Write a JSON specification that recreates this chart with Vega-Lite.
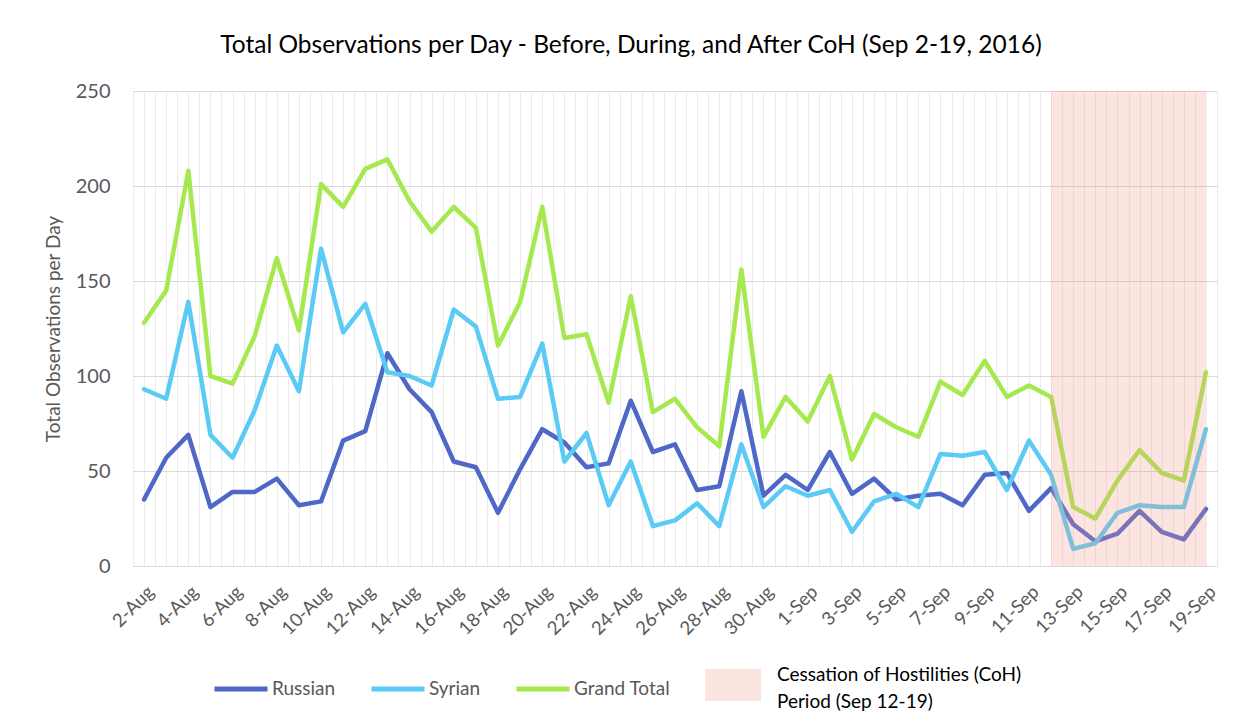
{
  "$schema": "https://vega.github.io/schema/vega-lite/v6.json",
  "width": 1084,
  "height": 475,
  "autosize": {"type": "none"},
  "padding": {"left": 133, "top": 91, "right": 35, "bottom": 155},
  "background": "white",
  "config": {
    "font": "Lato",
    "view": {"stroke": null},
    "style": {"guide-label": {"lineHeight": 27}}
  },
  "title": {
    "text": "Total Observations per Day - Before, During, and After CoH (Sep 2-19, 2016)",
    "font": "Lato",
    "fontSize": 24.5,
    "fontWeight": "normal",
    "color": "#000000",
    "anchor": "middle",
    "offset": 23,
    "dx": -44
  },
  "layer": [
    {
      "data": {
        "values": [
          {"date": "2016-08-02", "series": "Russian", "value": 35},
          {"date": "2016-08-03", "series": "Russian", "value": 57},
          {"date": "2016-08-04", "series": "Russian", "value": 69},
          {"date": "2016-08-05", "series": "Russian", "value": 31},
          {"date": "2016-08-06", "series": "Russian", "value": 39},
          {"date": "2016-08-07", "series": "Russian", "value": 39},
          {"date": "2016-08-08", "series": "Russian", "value": 46},
          {"date": "2016-08-09", "series": "Russian", "value": 32},
          {"date": "2016-08-10", "series": "Russian", "value": 34},
          {"date": "2016-08-11", "series": "Russian", "value": 66},
          {"date": "2016-08-12", "series": "Russian", "value": 71},
          {"date": "2016-08-13", "series": "Russian", "value": 112},
          {"date": "2016-08-14", "series": "Russian", "value": 93},
          {"date": "2016-08-15", "series": "Russian", "value": 81},
          {"date": "2016-08-16", "series": "Russian", "value": 55},
          {"date": "2016-08-17", "series": "Russian", "value": 52},
          {"date": "2016-08-18", "series": "Russian", "value": 28},
          {"date": "2016-08-19", "series": "Russian", "value": 51},
          {"date": "2016-08-20", "series": "Russian", "value": 72},
          {"date": "2016-08-21", "series": "Russian", "value": 65},
          {"date": "2016-08-22", "series": "Russian", "value": 52},
          {"date": "2016-08-23", "series": "Russian", "value": 54},
          {"date": "2016-08-24", "series": "Russian", "value": 87},
          {"date": "2016-08-25", "series": "Russian", "value": 60},
          {"date": "2016-08-26", "series": "Russian", "value": 64},
          {"date": "2016-08-27", "series": "Russian", "value": 40},
          {"date": "2016-08-28", "series": "Russian", "value": 42},
          {"date": "2016-08-29", "series": "Russian", "value": 92},
          {"date": "2016-08-30", "series": "Russian", "value": 37},
          {"date": "2016-08-31", "series": "Russian", "value": 48},
          {"date": "2016-09-01", "series": "Russian", "value": 40},
          {"date": "2016-09-02", "series": "Russian", "value": 60},
          {"date": "2016-09-03", "series": "Russian", "value": 38},
          {"date": "2016-09-04", "series": "Russian", "value": 46},
          {"date": "2016-09-05", "series": "Russian", "value": 35},
          {"date": "2016-09-06", "series": "Russian", "value": 37},
          {"date": "2016-09-07", "series": "Russian", "value": 38},
          {"date": "2016-09-08", "series": "Russian", "value": 32},
          {"date": "2016-09-09", "series": "Russian", "value": 48},
          {"date": "2016-09-10", "series": "Russian", "value": 49},
          {"date": "2016-09-11", "series": "Russian", "value": 29},
          {"date": "2016-09-12", "series": "Russian", "value": 41},
          {"date": "2016-09-13", "series": "Russian", "value": 22},
          {"date": "2016-09-14", "series": "Russian", "value": 13},
          {"date": "2016-09-15", "series": "Russian", "value": 17},
          {"date": "2016-09-16", "series": "Russian", "value": 29},
          {"date": "2016-09-17", "series": "Russian", "value": 18},
          {"date": "2016-09-18", "series": "Russian", "value": 14},
          {"date": "2016-09-19", "series": "Russian", "value": 30},
          {"date": "2016-08-02", "series": "Syrian", "value": 93},
          {"date": "2016-08-03", "series": "Syrian", "value": 88},
          {"date": "2016-08-04", "series": "Syrian", "value": 139},
          {"date": "2016-08-05", "series": "Syrian", "value": 69},
          {"date": "2016-08-06", "series": "Syrian", "value": 57},
          {"date": "2016-08-07", "series": "Syrian", "value": 82},
          {"date": "2016-08-08", "series": "Syrian", "value": 116},
          {"date": "2016-08-09", "series": "Syrian", "value": 92},
          {"date": "2016-08-10", "series": "Syrian", "value": 167},
          {"date": "2016-08-11", "series": "Syrian", "value": 123},
          {"date": "2016-08-12", "series": "Syrian", "value": 138},
          {"date": "2016-08-13", "series": "Syrian", "value": 102},
          {"date": "2016-08-14", "series": "Syrian", "value": 100},
          {"date": "2016-08-15", "series": "Syrian", "value": 95},
          {"date": "2016-08-16", "series": "Syrian", "value": 135},
          {"date": "2016-08-17", "series": "Syrian", "value": 126},
          {"date": "2016-08-18", "series": "Syrian", "value": 88},
          {"date": "2016-08-19", "series": "Syrian", "value": 89},
          {"date": "2016-08-20", "series": "Syrian", "value": 117},
          {"date": "2016-08-21", "series": "Syrian", "value": 55},
          {"date": "2016-08-22", "series": "Syrian", "value": 70},
          {"date": "2016-08-23", "series": "Syrian", "value": 32},
          {"date": "2016-08-24", "series": "Syrian", "value": 55},
          {"date": "2016-08-25", "series": "Syrian", "value": 21},
          {"date": "2016-08-26", "series": "Syrian", "value": 24},
          {"date": "2016-08-27", "series": "Syrian", "value": 33},
          {"date": "2016-08-28", "series": "Syrian", "value": 21},
          {"date": "2016-08-29", "series": "Syrian", "value": 64},
          {"date": "2016-08-30", "series": "Syrian", "value": 31},
          {"date": "2016-08-31", "series": "Syrian", "value": 42},
          {"date": "2016-09-01", "series": "Syrian", "value": 37},
          {"date": "2016-09-02", "series": "Syrian", "value": 40},
          {"date": "2016-09-03", "series": "Syrian", "value": 18},
          {"date": "2016-09-04", "series": "Syrian", "value": 34},
          {"date": "2016-09-05", "series": "Syrian", "value": 38},
          {"date": "2016-09-06", "series": "Syrian", "value": 31},
          {"date": "2016-09-07", "series": "Syrian", "value": 59},
          {"date": "2016-09-08", "series": "Syrian", "value": 58},
          {"date": "2016-09-09", "series": "Syrian", "value": 60},
          {"date": "2016-09-10", "series": "Syrian", "value": 40},
          {"date": "2016-09-11", "series": "Syrian", "value": 66},
          {"date": "2016-09-12", "series": "Syrian", "value": 48},
          {"date": "2016-09-13", "series": "Syrian", "value": 9},
          {"date": "2016-09-14", "series": "Syrian", "value": 12},
          {"date": "2016-09-15", "series": "Syrian", "value": 28},
          {"date": "2016-09-16", "series": "Syrian", "value": 32},
          {"date": "2016-09-17", "series": "Syrian", "value": 31},
          {"date": "2016-09-18", "series": "Syrian", "value": 31},
          {"date": "2016-09-19", "series": "Syrian", "value": 72},
          {"date": "2016-08-02", "series": "Grand Total", "value": 128},
          {"date": "2016-08-03", "series": "Grand Total", "value": 145},
          {"date": "2016-08-04", "series": "Grand Total", "value": 208},
          {"date": "2016-08-05", "series": "Grand Total", "value": 100},
          {"date": "2016-08-06", "series": "Grand Total", "value": 96},
          {"date": "2016-08-07", "series": "Grand Total", "value": 121},
          {"date": "2016-08-08", "series": "Grand Total", "value": 162},
          {"date": "2016-08-09", "series": "Grand Total", "value": 124},
          {"date": "2016-08-10", "series": "Grand Total", "value": 201},
          {"date": "2016-08-11", "series": "Grand Total", "value": 189},
          {"date": "2016-08-12", "series": "Grand Total", "value": 209},
          {"date": "2016-08-13", "series": "Grand Total", "value": 214},
          {"date": "2016-08-14", "series": "Grand Total", "value": 192},
          {"date": "2016-08-15", "series": "Grand Total", "value": 176},
          {"date": "2016-08-16", "series": "Grand Total", "value": 189},
          {"date": "2016-08-17", "series": "Grand Total", "value": 178},
          {"date": "2016-08-18", "series": "Grand Total", "value": 116},
          {"date": "2016-08-19", "series": "Grand Total", "value": 139},
          {"date": "2016-08-20", "series": "Grand Total", "value": 189},
          {"date": "2016-08-21", "series": "Grand Total", "value": 120},
          {"date": "2016-08-22", "series": "Grand Total", "value": 122},
          {"date": "2016-08-23", "series": "Grand Total", "value": 86},
          {"date": "2016-08-24", "series": "Grand Total", "value": 142},
          {"date": "2016-08-25", "series": "Grand Total", "value": 81},
          {"date": "2016-08-26", "series": "Grand Total", "value": 88},
          {"date": "2016-08-27", "series": "Grand Total", "value": 73},
          {"date": "2016-08-28", "series": "Grand Total", "value": 63},
          {"date": "2016-08-29", "series": "Grand Total", "value": 156},
          {"date": "2016-08-30", "series": "Grand Total", "value": 68},
          {"date": "2016-08-31", "series": "Grand Total", "value": 89},
          {"date": "2016-09-01", "series": "Grand Total", "value": 76},
          {"date": "2016-09-02", "series": "Grand Total", "value": 100},
          {"date": "2016-09-03", "series": "Grand Total", "value": 56},
          {"date": "2016-09-04", "series": "Grand Total", "value": 80},
          {"date": "2016-09-05", "series": "Grand Total", "value": 73},
          {"date": "2016-09-06", "series": "Grand Total", "value": 68},
          {"date": "2016-09-07", "series": "Grand Total", "value": 97},
          {"date": "2016-09-08", "series": "Grand Total", "value": 90},
          {"date": "2016-09-09", "series": "Grand Total", "value": 108},
          {"date": "2016-09-10", "series": "Grand Total", "value": 89},
          {"date": "2016-09-11", "series": "Grand Total", "value": 95},
          {"date": "2016-09-12", "series": "Grand Total", "value": 89},
          {"date": "2016-09-13", "series": "Grand Total", "value": 31},
          {"date": "2016-09-14", "series": "Grand Total", "value": 25},
          {"date": "2016-09-15", "series": "Grand Total", "value": 45},
          {"date": "2016-09-16", "series": "Grand Total", "value": 61},
          {"date": "2016-09-17", "series": "Grand Total", "value": 49},
          {"date": "2016-09-18", "series": "Grand Total", "value": 45},
          {"date": "2016-09-19", "series": "Grand Total", "value": 102}
        ]
      },
      "mark": {"type": "line", "strokeWidth": 4.5, "strokeJoin": "round", "strokeCap": "round"},
      "encoding": {
        "x": {
          "field": "date",
          "type": "temporal",
          "scale": {"type": "utc", "nice": false, "domain": [1470052800000, 1474286400000]},
          "axis": {
            "title": null,
            "tickCount": 98,
            "labelExpr": "(+datum.value % 172800000 == 86400000) ? utcFormat(datum.value, '%-d-%b') : ''",
            "labelAngle": -45,
            "labelFontSize": 18.5,
            "labelColor": "#595959",
            "labelOverlap": false,
            "labelPadding": 16,
            "ticks": false,
            "domainColor": "#D9D9D9",
            "gridColor": "#EBEBEB"
          }
        },
        "y": {
          "field": "value",
          "type": "quantitative",
          "scale": {"domain": [0, 250], "nice": false},
          "axis": {
            "title": "Total Observations per Day",
            "values": [0, 50, 100, 150, 200, 250],
            "domain": false,
            "ticks": false,
            "labelPadding": 23,
            "labelFontSize": 20,
            "labelColor": "#595959",
            "titleFontSize": 19,
            "titleFontWeight": "normal",
            "titleColor": "#595959",
            "titlePadding": 12,
            "gridColor": "#D9D9D9"
          }
        },
        "color": {
          "field": "series",
          "type": "nominal",
          "scale": {"domain": ["Russian", "Syrian", "Grand Total"], "range": ["#4F68C8", "#5BCBF5", "#A5E94F"]},
          "legend": {
            "title": null,
            "orient": "none",
            "legendX": 79,
            "legendY": 569,
            "direction": "horizontal",
            "symbolType": "stroke",
            "symbolSize": 2809,
            "symbolStrokeWidth": 5,
            "labelFontSize": 19,
            "labelColor": "#595959",
            "labelOffset": 2,
            "columnPadding": 25
          }
        }
      }
    },
    {
      "data": {
        "values": [
          {"start": "2016-09-12", "end": "2016-09-19", "label": "Cessation of Hostilities (CoH) Period (Sep 12-19)"}
        ]
      },
      "mark": {"type": "rect", "opacity": 0.25},
      "encoding": {
        "x": {"field": "start", "type": "temporal"},
        "x2": {"field": "end"},
        "y": {"datum": 0, "type": "quantitative"},
        "y2": {"datum": 250},
        "fill": {
          "field": "label",
          "type": "nominal",
          "scale": {"range": ["#F39783"]},
          "legend": {
            "title": null,
            "orient": "none",
            "legendX": 571,
            "legendY": 565,
            "symbolType": "M-1,-0.571H1V0.571H-1Z",
            "symbolSize": 3136,
            "symbolOpacity": 0.25,
            "labelExpr": "['Cessation of Hostilities (CoH)', 'Period (Sep 12-19)']",
            "labelFontSize": 19,
            "labelBaseline": "bottom",
            "labelColor": "#000000",
            "labelOffset": 15,
            "labelLimit": 400
          }
        }
      }
    }
  ]
}
